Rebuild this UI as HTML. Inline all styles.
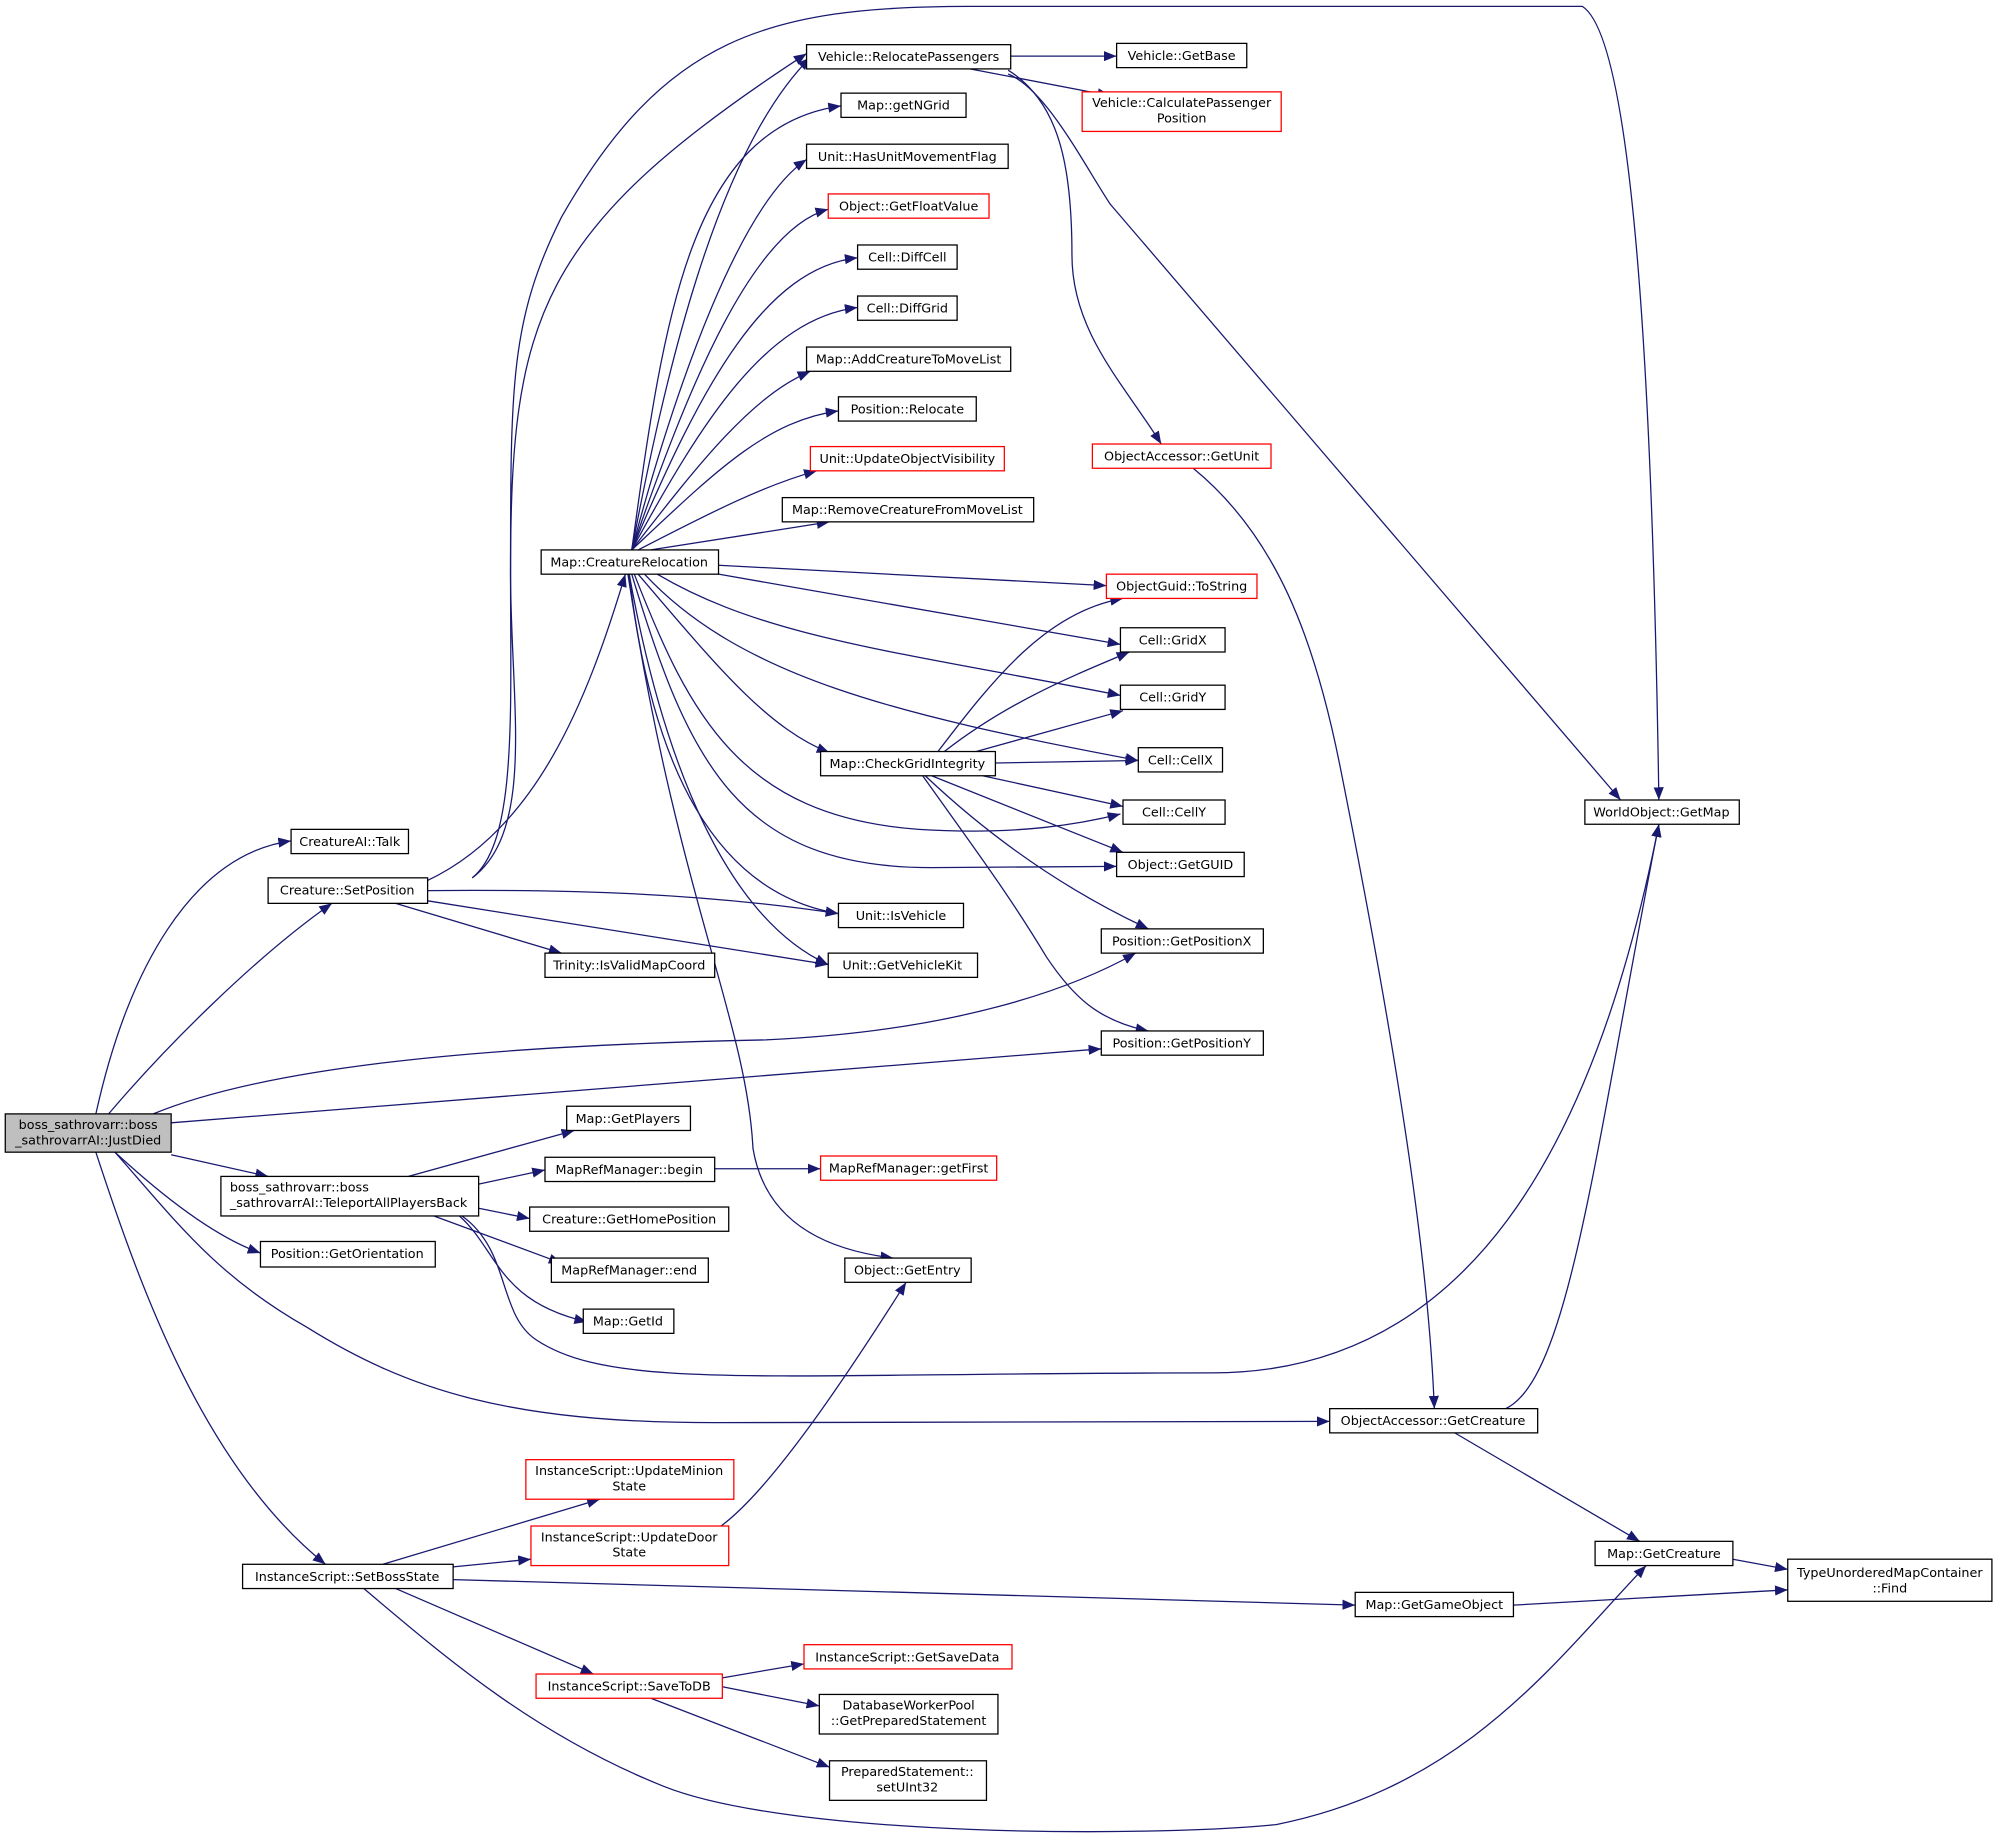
<!DOCTYPE html>
<html><head><meta charset="utf-8"><style>
html,body{margin:0;padding:0;background:#fff}
svg{display:block}
text{font-family:"DejaVu Sans","Liberation Sans",sans-serif;font-size:10px;fill:#000}
.e{fill:none;stroke:#191970;stroke-width:1}
.n{fill:#fff;stroke:#000;stroke-width:1}
.r{fill:#fff;stroke:#ff0000;stroke-width:1}
</style></head><body>
<svg width="2001" height="1845" viewBox="0 0 1568 1446" xmlns="http://www.w3.org/2000/svg">
<defs><marker id="a" markerWidth="10" markerHeight="8" refX="10" refY="4" orient="auto" markerUnits="userSpaceOnUse"><path d="M0,0 L10,4 L0,8 z" fill="#191970"/></marker></defs>
<g class="e" marker-end="url(#a)">
<path d="M75,873 C100,760 150,670 228,659"/>
<path d="M85,873 C130,820 200,750 260,708"/>
<path d="M120,873 C200,840 350,820 600,815 C750,808 840,775 890,747"/>
<path d="M134,880 L863,822"/>
<path d="M134,905 L210,922"/>
<path d="M90,903 C130,940 170,970 204,982"/>
<path d="M90,903 C140,960 170,1000 240,1040 C320,1090 400,1115 560,1115 L1042,1114"/>
<path d="M75,903 C110,1010 160,1150 255,1226"/>
<path d="M370,688 C420,650 400,550 400,450 C400,250 420,180 632,42"/>
<path d="M370,688 C405,660 400,560 400,450 C400,300 400,250 440,170 C520,30 600,5 760,5 L1240,5 C1280,30 1295,300 1300,627"/>
<path d="M335,690 C420,650 460,550 490,450"/>
<path d="M335,698 C450,697 550,700 657,716"/>
<path d="M335,706 C450,725 550,740 649,756"/>
<path d="M310,708 L440,747"/>
<path d="M495,431 C520,300 560,120 635,45"/>
<path d="M495,431 C520,250 540,100 659,83"/>
<path d="M495,431 C530,300 580,160 632,125"/>
<path d="M495,431 C540,300 590,180 649,164"/>
<path d="M495,431 C550,300 600,210 672,202"/>
<path d="M495,431 C550,330 600,250 672,241"/>
<path d="M495,431 C550,360 590,310 635,291"/>
<path d="M495,431 C560,370 600,330 657,322"/>
<path d="M500,431 C560,400 600,380 640,369"/>
<path d="M510,431 L650,409"/>
<path d="M563,443 L867,459"/>
<path d="M563,450 L878,505"/>
<path d="M515,450 C600,500 700,510 878,545"/>
<path d="M505,450 C580,530 700,560 892,596"/>
<path d="M500,450 C560,520 600,570 650,590"/>
<path d="M497,450 C540,560 580,640 720,650 C800,655 850,645 878,638"/>
<path d="M495,450 C540,600 580,680 730,680 L875,679"/>
<path d="M493,450 C510,600 560,700 657,716"/>
<path d="M493,450 C520,600 570,720 649,756"/>
<path d="M492,450 C530,700 585,800 590,900 C600,960 650,980 700,986"/>
<path d="M792,44 L875,44"/>
<path d="M760,54 L870,75"/>
<path d="M790,55 C830,80 840,130 840,200 C840,260 880,300 910,348"/>
<path d="M790,58 C820,70 850,130 870,160 L1270,627"/>
<path d="M735,589 C780,530 820,480 880,469"/>
<path d="M740,589 C790,550 840,530 885,511"/>
<path d="M765,589 L880,557"/>
<path d="M780,598 L892,596"/>
<path d="M770,608 L880,632"/>
<path d="M730,608 L880,668"/>
<path d="M725,608 C780,660 840,700 900,728"/>
<path d="M723,608 C760,660 790,700 820,750 C840,780 860,800 900,808"/>
<path d="M935,367 C1000,420 1030,500 1050,600 C1100,850 1120,1000 1124,1104"/>
<path d="M1180,1104 C1230,1080 1250,900 1300,646"/>
<path d="M1140,1123 L1285,1208"/>
<path d="M320,922 L450,886"/>
<path d="M375,928 L427,917"/>
<path d="M375,947 L415,955"/>
<path d="M340,953 L440,990"/>
<path d="M360,953 C390,980 390,1020 460,1036"/>
<path d="M362,953 C400,980 390,1030 420,1050 C480,1090 600,1076 950,1076 C1150,1076 1250,900 1300,646"/>
<path d="M560,916 L643,916"/>
<path d="M300,1226 L470,1175"/>
<path d="M355,1228 L416,1222"/>
<path d="M355,1238 L1062,1258"/>
<path d="M310,1245 L465,1312"/>
<path d="M285,1245 C350,1300 420,1360 520,1400 C620,1440 900,1440 1000,1430 C1150,1400 1220,1300 1290,1227"/>
<path d="M565,1196 C600,1170 650,1100 710,1005"/>
<path d="M566,1315 L630,1304"/>
<path d="M566,1322 L642,1337"/>
<path d="M510,1331 L650,1385"/>
<path d="M1358,1222 L1401,1230"/>
<path d="M1186,1258 L1401,1246"/>
</g>
<g>
<rect x="4" y="873" width="130" height="30" fill="#bfbfbf" stroke="#000"/>
<text x="69" y="885" text-anchor="middle">boss_sathrovarr::boss</text><text x="69" y="897" text-anchor="middle">_sathrovarrAI::JustDied</text>
<rect class="n" x="228" y="650" width="92" height="19"/><text x="274" y="663" text-anchor="middle">CreatureAI::Talk</text>
<rect class="n" x="210" y="688" width="125" height="20"/><text x="272" y="701" text-anchor="middle">Creature::SetPosition</text>
<rect class="n" x="173" y="922" width="202" height="31"/><text x="180" y="934">boss_sathrovarr::boss</text><text x="180" y="946">_sathrovarrAI::TeleportAllPlayersBack</text>
<rect class="n" x="204" y="973" width="137" height="20"/><text x="272" y="986" text-anchor="middle">Position::GetOrientation</text>
<rect class="n" x="190" y="1226" width="165" height="19"/><text x="272" y="1239" text-anchor="middle">InstanceScript::SetBossState</text>
<rect class="n" x="632" y="35" width="160" height="19"/><text x="712" y="48" text-anchor="middle">Vehicle::RelocatePassengers</text>
<rect class="n" x="659" y="73" width="98" height="19"/><text x="708" y="86" text-anchor="middle">Map::getNGrid</text>
<rect class="n" x="632" y="113" width="158" height="19"/><text x="711" y="126" text-anchor="middle">Unit::HasUnitMovementFlag</text>
<rect class="r" x="649" y="152" width="126" height="19"/><text x="712" y="165" text-anchor="middle">Object::GetFloatValue</text>
<rect class="n" x="672" y="192" width="78" height="19"/><text x="711" y="205" text-anchor="middle">Cell::DiffCell</text>
<rect class="n" x="672" y="232" width="78" height="19"/><text x="711" y="245" text-anchor="middle">Cell::DiffGrid</text>
<rect class="n" x="632" y="272" width="160" height="19"/><text x="712" y="285" text-anchor="middle">Map::AddCreatureToMoveList</text>
<rect class="n" x="657" y="311" width="108" height="19"/><text x="711" y="324" text-anchor="middle">Position::Relocate</text>
<rect class="r" x="635" y="350" width="152" height="19"/><text x="711" y="363" text-anchor="middle">Unit::UpdateObjectVisibility</text>
<rect class="n" x="613" y="390" width="197" height="19"/><text x="711" y="403" text-anchor="middle">Map::RemoveCreatureFromMoveList</text>
<rect class="n" x="424" y="431" width="139" height="19"/><text x="493" y="444" text-anchor="middle">Map::CreatureRelocation</text>
<rect class="n" x="643" y="589" width="137" height="19"/><text x="711" y="602" text-anchor="middle">Map::CheckGridIntegrity</text>
<rect class="n" x="657" y="708" width="98" height="19"/><text x="706" y="721" text-anchor="middle">Unit::IsVehicle</text>
<rect class="n" x="649" y="747" width="117" height="19"/><text x="707" y="760" text-anchor="middle">Unit::GetVehicleKit</text>
<rect class="n" x="427" y="747" width="133" height="19"/><text x="493" y="760" text-anchor="middle">Trinity::IsValidMapCoord</text>
<rect class="n" x="444" y="867" width="97" height="19"/><text x="492" y="880" text-anchor="middle">Map::GetPlayers</text>
<rect class="n" x="427" y="907" width="133" height="19"/><text x="493" y="920" text-anchor="middle">MapRefManager::begin</text>
<rect class="n" x="415" y="946" width="156" height="19"/><text x="493" y="959" text-anchor="middle">Creature::GetHomePosition</text>
<rect class="n" x="432" y="986" width="123" height="19"/><text x="493" y="999" text-anchor="middle">MapRefManager::end</text>
<rect class="n" x="457" y="1026" width="71" height="19"/><text x="492" y="1039" text-anchor="middle">Map::GetId</text>
<rect class="n" x="662" y="986" width="99" height="19"/><text x="711" y="999" text-anchor="middle">Object::GetEntry</text>
<rect class="r" x="412" y="1144" width="163" height="31"/><text x="493" y="1156" text-anchor="middle">InstanceScript::UpdateMinion</text><text x="493" y="1168" text-anchor="middle">State</text>
<rect class="r" x="416" y="1196" width="155" height="31"/><text x="493" y="1208" text-anchor="middle">InstanceScript::UpdateDoor</text><text x="493" y="1220" text-anchor="middle">State</text>
<rect class="r" x="420" y="1312" width="146" height="19"/><text x="493" y="1325" text-anchor="middle">InstanceScript::SaveToDB</text>
<rect class="r" x="630" y="1289" width="163" height="19"/><text x="711" y="1302" text-anchor="middle">InstanceScript::GetSaveData</text>
<rect class="n" x="642" y="1328" width="140" height="31"/><text x="712" y="1340" text-anchor="middle">DatabaseWorkerPool</text><text x="712" y="1352" text-anchor="middle">::GetPreparedStatement</text>
<rect class="n" x="650" y="1380" width="123" height="31"/><text x="711" y="1392" text-anchor="middle">PreparedStatement::</text><text x="711" y="1404" text-anchor="middle">setUInt32</text>
<rect class="n" x="875" y="34" width="102" height="19"/><text x="926" y="47" text-anchor="middle">Vehicle::GetBase</text>
<rect class="r" x="848" y="72" width="156" height="31"/><text x="926" y="84" text-anchor="middle">Vehicle::CalculatePassenger</text><text x="926" y="96" text-anchor="middle">Position</text>
<rect class="r" x="856" y="348" width="140" height="19"/><text x="926" y="361" text-anchor="middle">ObjectAccessor::GetUnit</text>
<rect class="r" x="867" y="450" width="118" height="19"/><text x="926" y="463" text-anchor="middle">ObjectGuid::ToString</text>
<rect class="n" x="878" y="492" width="82" height="19"/><text x="919" y="505" text-anchor="middle">Cell::GridX</text>
<rect class="n" x="878" y="537" width="82" height="19"/><text x="919" y="550" text-anchor="middle">Cell::GridY</text>
<rect class="n" x="892" y="586" width="66" height="19"/><text x="925" y="599" text-anchor="middle">Cell::CellX</text>
<rect class="n" x="880" y="627" width="80" height="19"/><text x="920" y="640" text-anchor="middle">Cell::CellY</text>
<rect class="n" x="875" y="668" width="100" height="19"/><text x="925" y="681" text-anchor="middle">Object::GetGUID</text>
<rect class="n" x="863" y="728" width="127" height="19"/><text x="926" y="741" text-anchor="middle">Position::GetPositionX</text>
<rect class="n" x="863" y="808" width="127" height="19"/><text x="926" y="821" text-anchor="middle">Position::GetPositionY</text>
<rect class="r" x="643" y="906" width="138" height="19"/><text x="712" y="919" text-anchor="middle">MapRefManager::getFirst</text>
<rect class="n" x="1242" y="627" width="121" height="19"/><text x="1302" y="640" text-anchor="middle">WorldObject::GetMap</text>
<rect class="n" x="1042" y="1104" width="163" height="19"/><text x="1123" y="1117" text-anchor="middle">ObjectAccessor::GetCreature</text>
<rect class="n" x="1250" y="1208" width="108" height="19"/><text x="1304" y="1221" text-anchor="middle">Map::GetCreature</text>
<rect class="n" x="1401" y="1222" width="160" height="33"/><text x="1481" y="1236" text-anchor="middle">TypeUnorderedMapContainer</text><text x="1481" y="1248" text-anchor="middle">::Find</text>
<rect class="n" x="1062" y="1248" width="124" height="19"/><text x="1124" y="1261" text-anchor="middle">Map::GetGameObject</text>
</g>
</svg>
</body></html>
